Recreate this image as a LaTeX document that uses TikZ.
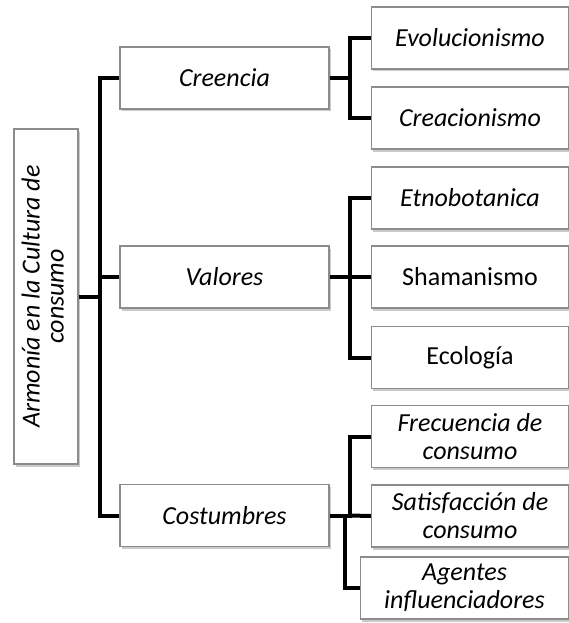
\documentclass[tikz,border=0pt]{standalone}
\usepackage{fontspec}
\setmainfont{Carlito}
\usetikzlibrary{shadows}
\tikzset{
  box/.style={draw=black!45, line width=1.2pt, fill=white, inner sep=0pt,
    align=center, font=\fontsize{26}{28}\selectfont,
    drop shadow={shadow xshift=1.5pt, shadow yshift=-2.5pt, fill=black!35, opacity=0.6}},
  lone/.style={box, minimum width=209pt, minimum height=62pt},
  ltwo/.style={box, minimum width=197pt, minimum height=62pt},
  conn/.style={line width=4pt, black}
}
\begin{document}
\begin{tikzpicture}[x=1pt,y=-1pt]
\useasboundingbox (0,0) rectangle (569,623);
\node[box, minimum width=64pt, minimum height=335pt] (root) at (46,296.5)
  {\rotatebox{90}{\begin{tabular}{@{}c@{}}\itshape Armonía en la Cultura de\\[-4pt]\itshape consumo\end{tabular}}};
\node[lone] (cre) at (224.5,78) {\itshape Creencia};
\node[lone] (val) at (224.5,277) {\itshape Valores};
\node[lone] (cos) at (224.5,515.5) {\itshape Costumbres};
\node[ltwo] (evo) at (470,38) {\itshape Evolucionismo};
\node[ltwo] (crea) at (470,118) {\itshape Creacionismo};
\node[ltwo] (etn) at (470,198) {\itshape Etnobotanica};
\node[ltwo] (sha) at (470,277) {Shamanismo};
\node[ltwo] (eco) at (470,357.5) {Ecología};
\node[ltwo] (fre) at (470,436.5) {\itshape Frecuencia de\\\itshape consumo};
\node[ltwo] (sat) at (470,516) {\itshape Satisfacción de\\\itshape consumo};
\node[box, minimum width=208pt, minimum height=62pt] (age) at (464.5,588) {\itshape Agentes\\\itshape influenciadores};
% connectors
\coordinate (rj) at ([xshift=21pt]root.east);
\draw[conn] (root.east) -- (rj) |- (cre.west);
\draw[conn] (rj) |- (val.west);
\draw[conn] (rj) |- (cos.west);
\coordinate (cj) at ([xshift=20pt]cre.east);
\draw[conn] (cre.east) -- (cj) |- (evo.west);
\draw[conn] (cj) |- (crea.west);
\coordinate (vj) at ([xshift=20pt]val.east);
\draw[conn] (val.east) -- (vj) |- (etn.west);
\draw[conn] (vj) |- (sha.west);
\draw[conn] (vj) |- (eco.west);
\coordinate (kj) at ([xshift=20pt]cos.east);
\coordinate (kk) at ([xshift=15pt]cos.east);
\draw[conn] (cos.east) -- (kj) |- (fre.west);
\draw[conn] (kj) -- (sat.west);
\draw[conn] (kk) |- (age.west);
\end{tikzpicture}
\end{document}
